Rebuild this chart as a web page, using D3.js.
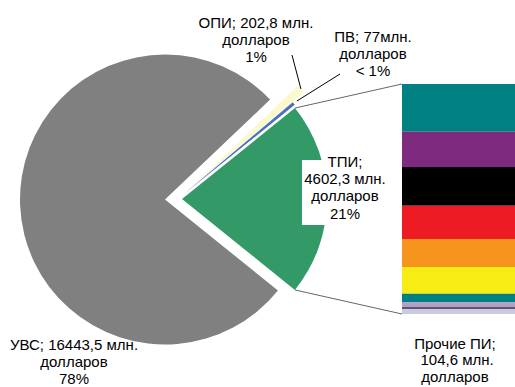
<!DOCTYPE html>
<html><head><meta charset="utf-8">
<script src="https://cdn.jsdelivr.net/npm/d3@7"></script>
<style>
body{margin:0;background:#fff}
svg{display:block}
text{font-family:"Liberation Sans",Arial,sans-serif;font-size:15px;fill:#000}
</style>
</head><body><svg id="c" width="515" height="387"></svg>
<script>
// ---- data ----
const pieNames  = ["ТПИ", "УВС", "ОПИ", "ПВ"];
const pieValues = [4602.3, 16443.5, 202.8, 77];
const pieColors = ["#339966", "#808080", "#fbf8cc", "#4a6fc2"];
const pieLabels = [
  ["ТПИ;", "4602,3 млн.", "долларов", "21%"],
  ["УВС; 16443,5 млн.", "долларов", "78%"],
  ["ОПИ; 202,8 млн.", "долларов", "1%"],
  ["ПВ; 77млн.", "долларов", "< 1%"]
];
const barNames  = ["ТПИ-1","ТПИ-2","ТПИ-3","ТПИ-4","ТПИ-5","ТПИ-6","ТПИ-7","ТПИ-8","ТПИ-9","Прочие ПИ"];
const barValues = [954.7, 707, 774, 667, 560, 534, 167, 107, 27, 104.6];
const barColors = ["#008080","#7e2a7e","#000000","#ed1c24","#f7941d","#f7ec13","#008080","#b09fcb","#000000","#ccc9e5"];
const barLabel  = ["Прочие ПИ;", " 104,6 млн.", "долларов"];

// ---- layout ----
const svg = d3.select("#c");
const cx = 178, cy = 199, R = 145;
const explode = [4, 13, 20, 5];
const total = d3.sum(pieValues);
const otherAng = 2*Math.PI*pieValues[0]/total;
const start = Math.PI/2 - otherAng/2;
const pie = d3.pie().sort(null).startAngle(start).endAngle(start + 2*Math.PI);
const arcs = pie(pieValues);
const arc = d3.arc().innerRadius(0).outerRadius(R);

const centers = arcs.map((a,i) => {
  const m = (a.startAngle + a.endAngle)/2;
  return [cx + Math.sin(m)*explode[i], cy - Math.cos(m)*explode[i]];
});

const gPie = svg.append("g");
gPie.selectAll("path").data(arcs).join("path")
  .attr("transform", (d,i) => `translate(${centers[i][0]},${centers[i][1]})`)
  .attr("d", arc)
  .attr("fill", (d,i) => pieColors[i]);

// ---- bar ----
const barX = 402, barW = 113, barTop = 84, barBot = 314;
const barSum = d3.sum(barValues);
const y = d3.scaleLinear().domain([0, barSum]).range([barTop, barBot]);
const cum = d3.cumsum(barValues);
const segs = barValues.map((v,i) => ({v, y0: i ? cum[i-1] : 0, y1: cum[i], c: barColors[i]}));
svg.append("g").selectAll("rect").data(segs).join("rect")
  .attr("x", barX).attr("width", barW)
  .attr("y", d => y(d.y0)).attr("height", d => y(d.y1) - y(d.y0))
  .attr("fill", d => d.c);

// ---- connectors from pie "other" slice to bar ----
const g0 = arcs[0], gc = centers[0];
const pA = [gc[0] + Math.sin(g0.startAngle)*R, gc[1] - Math.cos(g0.startAngle)*R];
const pB = [gc[0] + Math.sin(g0.endAngle)*R,   gc[1] - Math.cos(g0.endAngle)*R];
svg.append("line").attr("x1", pA[0]).attr("y1", pA[1]).attr("x2", barX).attr("y2", y(0))
  .attr("stroke", "#666").attr("stroke-width", 1);
svg.append("line").attr("x1", pB[0]).attr("y1", pB[1]).attr("x2", barX).attr("y2", y(barSum))
  .attr("stroke", "#666").attr("stroke-width", 1);

// ---- label helper ----
function label(lines, x, y0, lh) {
  const t = svg.append("text").attr("text-anchor", "middle");
  lines.forEach((s,i) => t.append("tspan").attr("x", x).attr("y", y0 + i*lh).text(s));
  return t;
}

// leaders for small slices
function outerPt(i, extra) {
  const a = arcs[i], m = (a.startAngle + a.endAngle)/2;
  return [centers[i][0] + Math.sin(m)*(R+extra), centers[i][1] - Math.cos(m)*(R+extra)];
}
const lOPI = outerPt(2, 0), lPV = outerPt(3, 4);
svg.append("line").attr("x1", lOPI[0]).attr("y1", lOPI[1]).attr("x2", 292).attr("y2", 55)
  .attr("stroke", "#000").attr("stroke-width", 1);
svg.append("line").attr("x1", lPV[0]).attr("y1", lPV[1]).attr("x2", 340).attr("y2", 74)
  .attr("stroke", "#000").attr("stroke-width", 1);

// ТПИ label with white box
svg.append("rect").attr("x", 302).attr("y", 160).attr("width", 86).attr("height", 65).attr("fill", "#fff");
label(pieLabels[0], 345, 166.5, 17.4);
label(pieLabels[1], 74, 350, 16.8);
label(pieLabels[2], 256, 27.5, 17.4);
label(pieLabels[3], 373, 42, 17);
label(barLabel, 455, 348.5, 16.5);
</script></body></html>
